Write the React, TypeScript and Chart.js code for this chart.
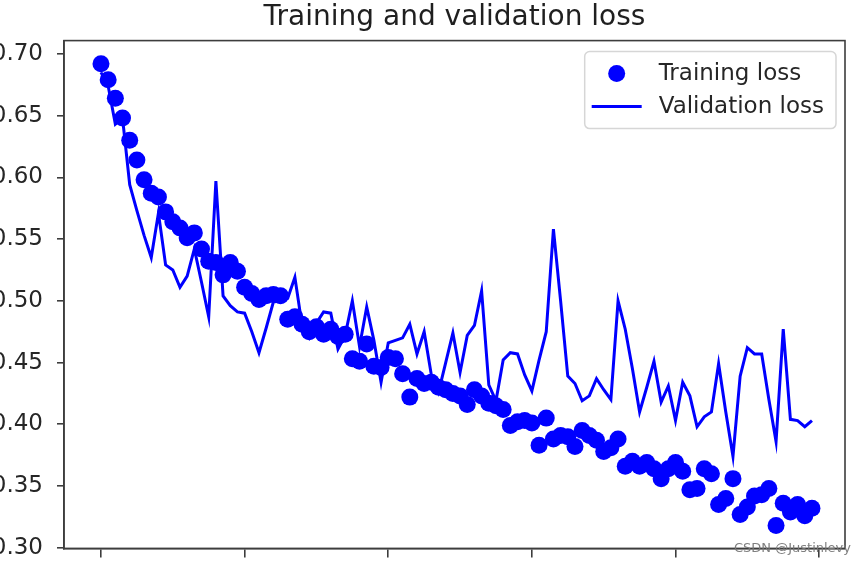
import React, { useEffect, useRef } from 'react';
import { Chart, registerables } from 'chart.js';

Chart.register(...registerables);

const TITLE = 'Training and validation loss';
const SERIES_NAMES = ['Training loss', 'Validation loss'];
const WATERMARK = 'CSDN @Justinlevy';

const epochs: number[] = Array.from({ length: 100 }, (_, i) => i);

const trainingLoss = [
  0.692, 0.679, 0.664, 0.648, 0.630, 0.614, 0.598, 0.587, 0.584, 0.572,
  0.564, 0.559, 0.551, 0.555, 0.542, 0.532, 0.531, 0.521, 0.531, 0.524,
  0.511, 0.506, 0.501, 0.504, 0.505, 0.504, 0.485, 0.487, 0.481, 0.475,
  0.479, 0.473, 0.477, 0.471, 0.473, 0.453, 0.451, 0.465, 0.447, 0.446,
  0.454, 0.453, 0.441, 0.422, 0.437, 0.433, 0.434, 0.430, 0.428, 0.425,
  0.423, 0.416, 0.428, 0.423, 0.417, 0.415, 0.412, 0.399, 0.402, 0.403,
  0.401, 0.383, 0.405, 0.388, 0.391, 0.390, 0.382, 0.395, 0.391, 0.387,
  0.378, 0.381, 0.388, 0.366, 0.370, 0.366, 0.369, 0.364, 0.356, 0.364,
  0.369, 0.362, 0.347, 0.348, 0.364, 0.360, 0.335, 0.340, 0.356, 0.327,
  0.333, 0.342, 0.343, 0.348, 0.318, 0.336, 0.329, 0.335, 0.326, 0.332,
];

const validationLoss = [
  0.685, 0.674, 0.643, 0.648, 0.594, 0.573, 0.553, 0.535, 0.571, 0.529,
  0.525, 0.511, 0.520, 0.542, 0.515, 0.487, 0.597, 0.504, 0.496, 0.491,
  0.490, 0.475, 0.458, 0.478, 0.499, 0.500, 0.502, 0.519, 0.480, 0.470,
  0.482, 0.491, 0.490, 0.461, 0.472, 0.500, 0.463, 0.495, 0.468, 0.434,
  0.466, 0.468, 0.470, 0.481, 0.457, 0.475, 0.440, 0.426, 0.450, 0.474,
  0.442, 0.472, 0.480, 0.508, 0.432, 0.419, 0.452, 0.458, 0.457, 0.440,
  0.427, 0.452, 0.475, 0.558, 0.500, 0.439, 0.433, 0.419, 0.423, 0.437,
  0.428, 0.420, 0.500, 0.477, 0.445, 0.410, 0.430, 0.451, 0.418, 0.431,
  0.403, 0.434, 0.423, 0.398, 0.406, 0.410, 0.449, 0.410, 0.374, 0.439,
  0.462, 0.457, 0.457, 0.420, 0.386, 0.477, 0.404, 0.403, 0.398, 0.403,
];

const X_TICKS_STEP = 20;
const Y_TICKS_STEP = 0.05;

const BLUE = '#0000ff';
const SPINE = '#3d3d3d';
const FONT = "'DejaVu Sans', sans-serif";

const mplPlugin = {
  id: 'mplDecor',
  afterDatasetsDraw(chart: any) {
    const { ctx, chartArea } = chart;
    ctx.save();
    ctx.strokeStyle = SPINE;
    ctx.lineWidth = 1.6;
    ctx.strokeRect(chartArea.left, chartArea.top, chartArea.right - chartArea.left, chartArea.bottom - chartArea.top);
    ctx.restore();
  },
  afterDraw(chart: any) {
    const { ctx, chartArea } = chart;
    const ds = chart.data.datasets;
    ctx.save();
    ctx.font = `23px ${FONT}`;
    const maxW = Math.max(...ds.map((d: any) => ctx.measureText(d.label).width));
    const right = chartArea.right - 9;
    const top = chartArea.top + 11;
    const w = 7 + 50 + 17 + maxW + 12;
    const h = 77;
    const left = right - w;
    const r = 5;
    ctx.beginPath();
    ctx.moveTo(left + r, top);
    ctx.lineTo(right - r, top);
    ctx.arcTo(right, top, right, top + r, r);
    ctx.lineTo(right, top + h - r);
    ctx.arcTo(right, top + h, right - r, top + h, r);
    ctx.lineTo(left + r, top + h);
    ctx.arcTo(left, top + h, left, top + h - r, r);
    ctx.lineTo(left, top + r);
    ctx.arcTo(left, top, left + r, top, r);
    ctx.closePath();
    ctx.fillStyle = 'rgba(255,255,255,0.85)';
    ctx.fill();
    ctx.strokeStyle = '#d6d6d6';
    ctx.lineWidth = 1.5;
    ctx.stroke();

    const row1 = top + 22;
    const row2 = top + 55;
    const hx = left + 7;
    ctx.fillStyle = BLUE;
    ctx.beginPath();
    ctx.arc(hx + 25, row1, 8.5, 0, Math.PI * 2);
    ctx.fill();
    ctx.strokeStyle = BLUE;
    ctx.lineWidth = 3;
    ctx.beginPath();
    ctx.moveTo(hx, row2);
    ctx.lineTo(hx + 50, row2);
    ctx.stroke();

    ctx.fillStyle = '#262626';
    ctx.textBaseline = 'middle';
    ctx.textAlign = 'left';
    ctx.fillText(ds[0].label, hx + 67, row1);
    ctx.fillText(ds[1].label, hx + 67, row2);

    ctx.font = `13px ${FONT}`;
    ctx.fillStyle = 'rgba(120,120,120,0.95)';
    ctx.textAlign = 'right';
    ctx.textBaseline = 'middle';
    ctx.fillText(WATERMARK, 851, chartArea.bottom);
    ctx.restore();
  },
};

export default function App() {
  const ref = useRef<HTMLCanvasElement | null>(null);

  useEffect(() => {
    if (!ref.current) return;
    const chart = new Chart(ref.current, {
      type: 'line',
      data: {
        datasets: [
          {
            label: SERIES_NAMES[0],
            data: epochs.map((e, i) => ({ x: e, y: trainingLoss[i] })),
            showLine: false,
            pointRadius: 8.5,
            pointBackgroundColor: BLUE,
            pointBorderWidth: 0,
            borderColor: BLUE,
            backgroundColor: BLUE,
            order: 1,
          },
          {
            label: SERIES_NAMES[1],
            data: epochs.map((e, i) => ({ x: e, y: validationLoss[i] })),
            borderColor: BLUE,
            backgroundColor: BLUE,
            borderWidth: 3,
            pointRadius: 0,
            tension: 0,
            fill: false,
            order: 0,
          },
        ],
      },
      options: {
        animation: false,
        responsive: false,
        events: [],
        layout: { padding: { left: 0, right: 20, top: 0, bottom: 0 } },
        plugins: {
          legend: { display: false },
          tooltip: { enabled: false },
          title: {
            display: true,
            fullSize: false,
            text: TITLE,
            color: '#1f1f1f',
            font: { family: FONT, size: 28, weight: 'normal' },
            padding: { top: 1, bottom: 6 },
          },
        },
        scales: {
          x: {
            type: 'linear',
            min: -5.15,
            max: 103.6,
            ticks: { stepSize: X_TICKS_STEP, includeBounds: false, display: false },
            grid: { drawOnChartArea: false, drawTicks: true, tickLength: 9, color: SPINE, lineWidth: 1.6 },
            border: { display: true, color: SPINE, width: 1.6 },
            afterFit: (s: any) => { s.height = 18; },
          },
          y: {
            min: 0.2995,
            max: 0.7107,
            ticks: {
              stepSize: Y_TICKS_STEP,
              includeBounds: false,
              callback: (v: any) => Number(v).toFixed(2),
              font: { family: FONT, size: 23, lineHeight: 0.4 },
              color: '#262626',
              padding: 14,
            },
            grid: { drawOnChartArea: false, drawTicks: true, tickLength: 7, color: SPINE, lineWidth: 1.6 },
            border: { display: true, color: SPINE, width: 1.6 },
            afterFit: (s: any) => { s.width = 64; },
          },
        },
      },
      plugins: [mplPlugin],
    } as any);
    return () => chart.destroy();
  }, []);

  return (
    <div style={{ position: 'fixed', left: 0, top: 0, width: 865, height: 567, background: '#fff' }}>
      <canvas ref={ref} width={865} height={567} style={{ width: 865, height: 567, display: 'block' }} />
    </div>
  );
}
